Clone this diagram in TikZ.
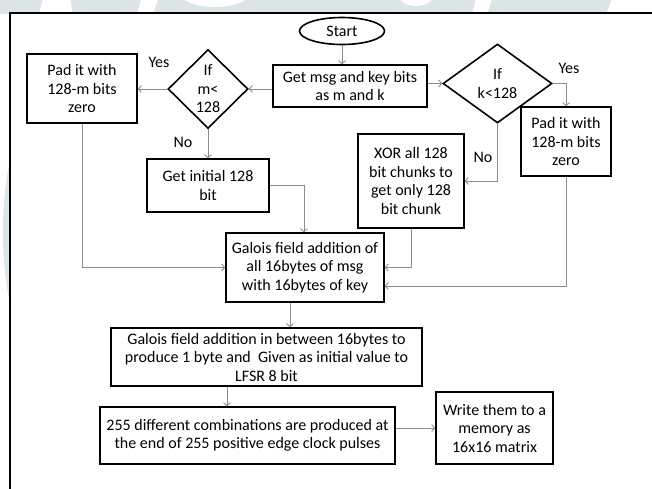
\documentclass[tikz,border=0pt]{standalone}
\usepackage{fontspec}
\setmainfont{Carlito}
\usetikzlibrary{shapes.geometric,arrows.meta}
\definecolor{wmark}{HTML}{DCE4E8}
\definecolor{linkgray}{HTML}{8C8C8C}
\begin{document}
\begin{tikzpicture}[x=1pt,y=-1pt,
  every node/.style={font=\fontsize{16}{18.5}\selectfont, align=center, inner sep=0pt},
  box/.style={draw, line width=1.6pt, rectangle},
  decision/.style={draw, line width=1.6pt, diamond},
  terminal/.style={draw, line width=1.6pt, ellipse},
  arr/.style={draw=linkgray, line width=0.9pt, -{Straight Barb[length=3pt,width=7pt]}},
  lbl/.style={}]
\useasboundingbox (0,0) rectangle (652,488);
\begin{scope}
\clip (0,0) rectangle (652,488);
% faint background artwork around the frame
\fill[wmark] (0,0) rectangle (652,14);
\fill[white] (43,-1) -- (70,-1) -- (73,14) -- (39,14) -- cycle;
\fill[white] (141,-1) -- (158,-1) -- (153,14) -- (137,14) -- cycle;
\fill[white] (215,-8) ellipse (36pt and 15pt);
\fill[white] (416,-6) ellipse (18pt and 12pt);
\fill[white] (476,-1) -- (492,-1) -- (487,14) -- (472,14) -- cycle;
\fill[white] (612,-1) -- (652,-1) -- (652,14) -- (606,14) -- cycle;
\fill[wmark] (30,232) ellipse (27pt and 105pt);
% page frame
\fill[white] (10,13) rectangle (700,560);
\draw[line width=2.3pt] (700,13) -- (10,13) -- (10,560);
\end{scope}

% nodes
\node[terminal, minimum width=85pt, minimum height=27pt] (start) at (342,31) {Start};
\node[box, minimum width=154pt, minimum height=42pt] (getmsg) at (350,86) {Get msg and key bits\\as m and k};
\node[decision, minimum width=80pt, minimum height=79pt] (dm) at (208,89) {If\\m<\\128};
\node[box, minimum width=110pt, minimum height=69pt] (padl) at (82,88.5) {Pad it with\\128-m bits\\zero};
\node[box, minimum width=122pt, minimum height=53pt] (init) at (208,185.5) {Get initial 128\\bit};
\node[decision, minimum width=109pt, minimum height=79pt] (dk) at (497.5,83.5) {If\\k<128};
\node[box, minimum width=90pt, minimum height=69pt] (padr) at (566,141.5) {Pad it with\\128-m bits\\zero};
\node[box, minimum width=106pt, minimum height=94pt] (xor) at (411,181) {XOR all 128\\bit chunks to\\get only 128\\bit chunk};
\node[box, minimum width=158pt, minimum height=69pt] (gf1) at (305,267.5) {Galois field addition of\\all 16bytes of msg\\with 16bytes of key};
\node[box, minimum width=311pt, minimum height=58pt] (gf2) at (266.5,357) {Galois field addition in between 16bytes to\\produce 1 byte and\ \ Given as initial value to\\LFSR 8 bit};
\node[box, minimum width=295pt, minimum height=57pt] (lfsr) at (247.5,435.5) {255 different combinations are produced at\\the end of 255 positive edge clock pulses};
\node[box, minimum width=117pt, minimum height=72pt] (write) at (494.5,428) {Write them to a\\memory as\\16x16 matrix};

% branch labels
\node[lbl] (yesm) at (159,62) {Yes};
\node[lbl] (nom) at (183,142) {No};
\node[lbl] (yesk) at (569,68) {Yes};
\node[lbl] (nok) at (483,157) {No};

% connectors
\draw[arr] (start.south) -- (start.south |- getmsg.north);
\draw[arr] (getmsg.west |- dm.east) -- (dm.east);
\draw[arr] (dm.west) -- (dm.west -| padl.east);
\draw[arr] (dm.south) -- (init.north);
\draw[arr] (getmsg.east |- dk.west) -- (dk.west);
\draw[arr] (dk.east) -| (padr.north);
\draw[arr] (dk.south) |- (xor.east);
\draw[arr] (init.east) -| ([xshift=-1pt]gf1.north);
\draw[arr] (xor.south) |- (gf1.east);
\draw[arr] (padr.south) |- ([yshift=-18.5pt]gf1.east);
\draw[arr] (padl.south) |- (gf1.west);
\draw[arr] ([xshift=-15pt]gf1.south) -- ([xshift=-15pt]gf1.south |- gf2.north);
\draw[arr] ([xshift=-39.5pt]gf2.south) -- ([xshift=-39.5pt]gf2.south |- lfsr.north);
\draw[arr] (lfsr.east |- write.west) -- (write.west);
\end{tikzpicture}
\end{document}
